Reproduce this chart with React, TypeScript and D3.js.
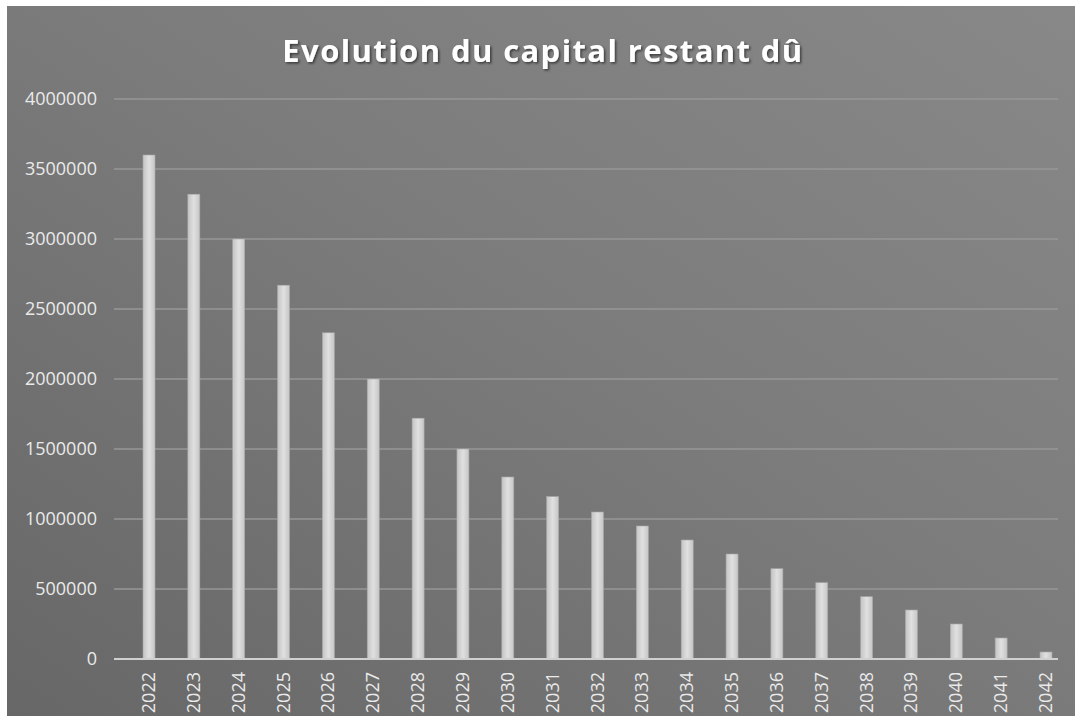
import React from "react";
import * as d3 from "d3";

const title = "Evolution du capital restant dû";
const years = ["2022","2023","2024","2025","2026","2027","2028","2029","2030","2031","2032","2033","2034","2035","2036","2037","2038","2039","2040","2041","2042"];
const capital = [3600000,3320000,3000000,2670000,2330000,2000000,1720000,1500000,1300000,1160000,1050000,950000,850000,750000,645000,545000,445000,350000,250000,150000,50000];
const yTickValues = [0,500000,1000000,1500000,2000000,2500000,3000000,3500000,4000000];

const W = 1078, H = 720;
const plotLeft = 114, plotRight = 1058;

export default function App() {
  const x = d3.scalePoint<string>().domain(years).range([149, 1046]);
  const y = d3.scaleLinear().domain([0, 4000000]).range([659, 99]);
  const barW = 12;
  const font = "'Open Sans', 'Noto Sans', sans-serif";
  return (
    <svg width={W} height={H} style={{ position: "absolute", left: 0, top: 0, display: "block" }}>
      <defs>
        <linearGradient id="bg" x1="0" y1="1" x2="1" y2="0">
          <stop offset="0" stopColor="#676767" />
          <stop offset="0.55" stopColor="#7c7c7c" />
          <stop offset="1" stopColor="#888888" />
        </linearGradient>
        <linearGradient id="bar" x1="0" y1="0" x2="1" y2="0">
          <stop offset="0" stopColor="#c4c4c4" />
          <stop offset="0.5" stopColor="#e0e0e0" />
          <stop offset="1" stopColor="#c6c6c6" />
        </linearGradient>
        <filter id="shadow" x="-10%" y="-30%" width="120%" height="160%">
          <feDropShadow dx="1.5" dy="1.5" stdDeviation="1.2" floodColor="#000" floodOpacity="0.55" />
        </filter>
      </defs>
      <rect x={0} y={0} width={W} height={H} fill="#ffffff" />
      <rect x={7} y={6} width={1068} height={710} fill="url(#bg)" />
      <text x={543} y={62} textAnchor="middle" fontFamily={font} fontWeight={700} fontSize={31}
        fill="#ffffff" letterSpacing={1.4} filter="url(#shadow)">{title}</text>
      {yTickValues.map((t) => (
        <g key={t}>
          {t > 0 && (
            <line x1={plotLeft} x2={plotRight} y1={y(t)} y2={y(t)} stroke="#979797" strokeWidth={1.5} />
          )}
          <text x={97} y={y(t)} dy="0.35em" textAnchor="end" fontFamily={font} fontSize={18} fill="#eaeaea">{t}</text>
        </g>
      ))}
      {years.map((yr, i) => (
        <rect key={yr} x={(x(yr) as number) - barW / 2} y={y(capital[i])} width={barW}
          height={y(0) - y(capital[i])} fill="url(#bar)" stroke="#a9a9a9" strokeWidth={0.6} />
      ))}
      <line x1={plotLeft} x2={plotRight} y1={y(0)} y2={y(0)} stroke="#d0d0d0" strokeWidth={2} />
      {years.map((yr) => (
        <text key={"l" + yr} transform={`translate(${(x(yr) as number) + 6},672) rotate(-90)`}
          textAnchor="end" fontFamily={font} fontSize={18} fill="#eaeaea">{yr}</text>
      ))}
    </svg>
  );
}
